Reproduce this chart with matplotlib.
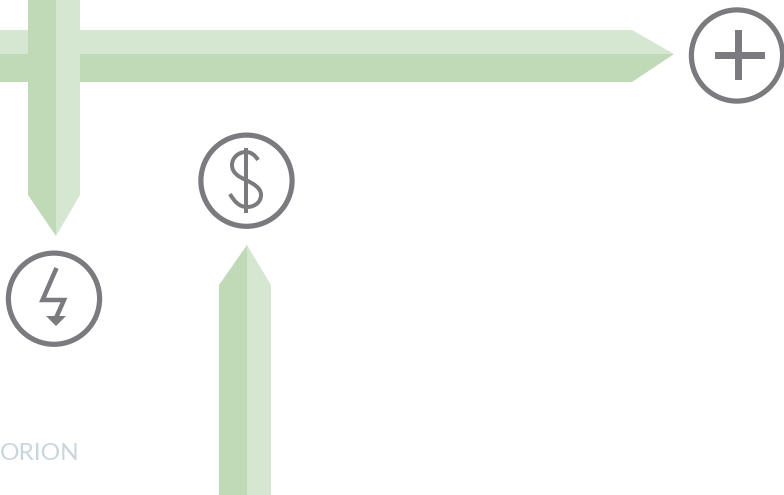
import matplotlib
matplotlib.use("Agg")
import matplotlib.pyplot as plt
from matplotlib.patches import Circle, Polygon, PathPatch
from matplotlib.path import Path

WIDTH, HEIGHT = 784, 495
DARK_GREEN = "#c0d9b6"
LIGHT_GREEN = "#d5e6d1"
GREY = "#7b7b7f"
LABEL_COLOR = "#c9d5db"

label_text = "ORION"

# arrow outlines, in picture pixels
h_arrow_light = [(0, 30), (632, 30), (674, 54), (0, 54)]
h_arrow_dark = [(0, 54), (674, 54), (632, 82), (0, 82)]
down_arrow_dark = [(28, 0), (56, 0), (56, 236), (28, 195)]
down_arrow_light = [(56, 0), (80, 0), (80, 195), (56, 236)]
up_arrow_dark = [(219, 495), (219, 285), (247, 245), (247, 495)]
up_arrow_light = [(247, 495), (247, 245), (271, 285), (271, 495)]

# icon rings: centre x, centre y
ring_centres = [(737, 55.5), (246.5, 180.7), (54, 298.7)]
ring_radius = 45.6

plus_bars = [[(735, 30), (742, 30), (742, 80), (735, 80)],
             [(715, 52), (765, 52), (765, 59), (715, 59)]]

bolt_line = [(56.5, 268), (42.5, 300), (64, 300), (55.5, 319)]
bolt_head = [(46, 316), (66, 316), (56, 326)]

dollar_bar = [(246.5, 148), (246.5, 213)]
dollar_curve = [(258, 160),
                (255, 155), (251, 152), (246, 152),
                (238, 152), (232, 158), (232, 165),
                (232, 173), (239, 177), (246, 180),
                (254, 184), (261, 188), (261, 195),
                (261, 202), (255, 207), (247, 207),
                (239, 207), (234, 201), (230, 194)]


def px(w):
    return w * 72 / 100


fig = plt.figure(figsize=(WIDTH / 100, HEIGHT / 100), dpi=100)
ax = fig.add_axes([0, 0, 1, 1])
ax.set_xlim(0, WIDTH)
ax.set_ylim(HEIGHT, 0)
ax.axis("off")

# horizontal arrow goes under the vertical one
for pts, color in [(h_arrow_light, LIGHT_GREEN), (h_arrow_dark, DARK_GREEN),
                   (down_arrow_dark, DARK_GREEN), (down_arrow_light, LIGHT_GREEN),
                   (up_arrow_dark, DARK_GREEN), (up_arrow_light, LIGHT_GREEN)]:
    ax.add_patch(Polygon(pts, closed=True, facecolor=color, edgecolor="none"))

for c in ring_centres:
    ax.add_patch(Circle(c, ring_radius, fill=False, edgecolor=GREY, linewidth=px(5.2)))

for bar in plus_bars:
    ax.add_patch(Polygon(bar, closed=True, facecolor=GREY, edgecolor="none"))

# bolt
xs, ys = zip(*bolt_line)
ax.plot(xs, ys, color=GREY, linewidth=px(4.5), solid_joinstyle="miter", solid_capstyle="butt")
ax.add_patch(Polygon(bolt_head, closed=True, facecolor=GREY, edgecolor="none"))

# dollar sign
xs, ys = zip(*dollar_bar)
ax.plot(xs, ys, color=GREY, linewidth=px(4), solid_capstyle="butt")
codes = [Path.MOVETO] + [Path.CURVE4] * (len(dollar_curve) - 1)
ax.add_patch(PathPatch(Path(dollar_curve, codes), fill=False, edgecolor=GREY,
                       linewidth=px(4), capstyle="butt"))

ax.text(0, 459.5, label_text, color=LABEL_COLOR, fontsize=17.6, family="Lato",
        ha="left", va="baseline")

fig.savefig("out.png", dpi=100)
